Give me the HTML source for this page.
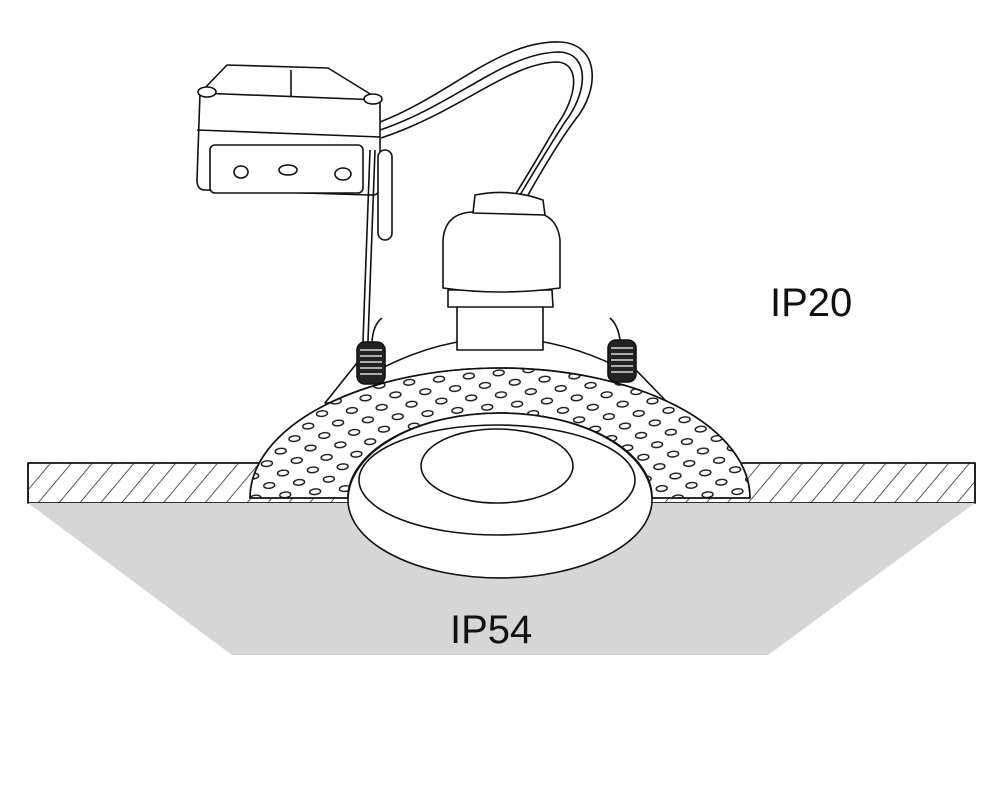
<!DOCTYPE html>
<html><head><style>html,body{margin:0;padding:0;background:#fff}svg{display:block}</style></head>
<body>
<svg width="1000" height="796" viewBox="0 0 1000 796" xmlns="http://www.w3.org/2000/svg">
<defs>
<pattern id="hatch" width="16" height="16" patternUnits="userSpaceOnUse" patternTransform="rotate(40)">
<line x1="0" y1="0" x2="0" y2="16" stroke="#222" stroke-width="1.5"/>
</pattern>
<pattern id="dots" width="30" height="22" patternUnits="userSpaceOnUse" patternTransform="rotate(-6)">
<ellipse cx="7" cy="5" rx="5.5" ry="2.8" fill="none" stroke="#111" stroke-width="1.4"/>
<ellipse cx="22" cy="16" rx="5.5" ry="2.8" fill="none" stroke="#111" stroke-width="1.4"/>
</pattern>
</defs>
<g stroke="#111" stroke-width="1.6" fill="#fff" stroke-linejoin="round">
<rect x="28" y="463" width="947" height="40" fill="url(#hatch)"/>
<rect x="28" y="463" width="947" height="40" fill="none"/>
<polygon points="28,503 975,503 768,655 232,655" fill="#d6d6d6" stroke="none"/>
<path d="M380,122 C450,95 500,40 560,42 C600,44 600,90 575,120 C560,140 545,165 528,195" fill="none"/>
<path d="M380,130 C455,105 505,52 560,52 C590,54 588,92 565,122 C552,142 538,165 520,195" fill="none"/>
<path d="M381,138 C460,112 510,62 558,62 C580,64 578,95 557,125 C545,145 532,168 515,195" fill="none"/>
<path d="M200,93 L227,65 L328,68 L380,100 L380,186 Q380,196 370,195 L205,190 Q197,190 197,180 Z"/>
<path d="M200,93 L380,100" fill="none"/>
<path d="M197,130 L380,137" fill="none"/>
<rect x="210" y="145" width="153" height="48" rx="5"/>
<line x1="291" y1="70" x2="291" y2="97"/>
<ellipse cx="207" cy="92" rx="9" ry="5"/>
<ellipse cx="373" cy="99" rx="9" ry="5"/>
<ellipse cx="241" cy="172" rx="7" ry="6"/><ellipse cx="288" cy="170" rx="9" ry="5"/><ellipse cx="343" cy="174" rx="8" ry="6"/>
<rect x="378" y="150" width="14" height="90" rx="7"/>
<line x1="370" y1="150" x2="362" y2="368"/>
<line x1="375" y1="150" x2="367" y2="368"/>
<path d="M325,403 L357,363 L378,370 Q440,338 500,338 Q560,338 620,368 L633,367 L667,402 Z"/>
<rect x="457" y="300" width="86" height="50"/>
<path d="M448,290 L552,290 L553,307 L448,307 Z"/>
<path d="M443,240 Q445,213 473,212 L530,212 Q557,213 560,240 L560,288 Q500,296 443,288 Z"/>
<path d="M475,195 Q510,188 543,200 L545,215 L473,213 Z"/>
<g fill="#222">
<rect x="357" y="342" width="28" height="42" rx="8"/>
<rect x="608" y="340" width="28" height="42" rx="8"/>
</g>
<g stroke="#fff" stroke-width="1.2" fill="none">
<path d="M360,350 h22 M360,356 h22 M360,362 h22 M360,368 h22 M360,374 h22"/>
<path d="M611,348 h22 M611,354 h22 M611,360 h22 M611,366 h22 M611,372 h22"/>
</g>
<path d="M372,342 Q373,325 382,318" fill="none"/>
<path d="M620,340 Q618,325 610,318" fill="none"/>
<path d="M250,498 A250,130 0 0 1 750,498 L652,498 A152,85 0 0 0 348,498 Z" fill="#fff"/>
<path d="M250,498 A250,130 0 0 1 750,498 L652,498 A152,85 0 0 0 348,498 Z" fill="url(#dots)"/>
<path d="M348,500 A152,87 0 0 1 652,500 A152,78 0 0 1 348,500 Z"/>
<ellipse cx="497" cy="480" rx="138" ry="55" fill="none"/>
<ellipse cx="497" cy="466" rx="76" ry="37" fill="none"/>
</g>
<text x="770" y="316" font-family="Liberation Sans, sans-serif" font-size="40" fill="#111">IP20</text>
<text x="450" y="643" font-family="Liberation Sans, sans-serif" font-size="40" fill="#111">IP54</text>
</svg>
</body></html>
